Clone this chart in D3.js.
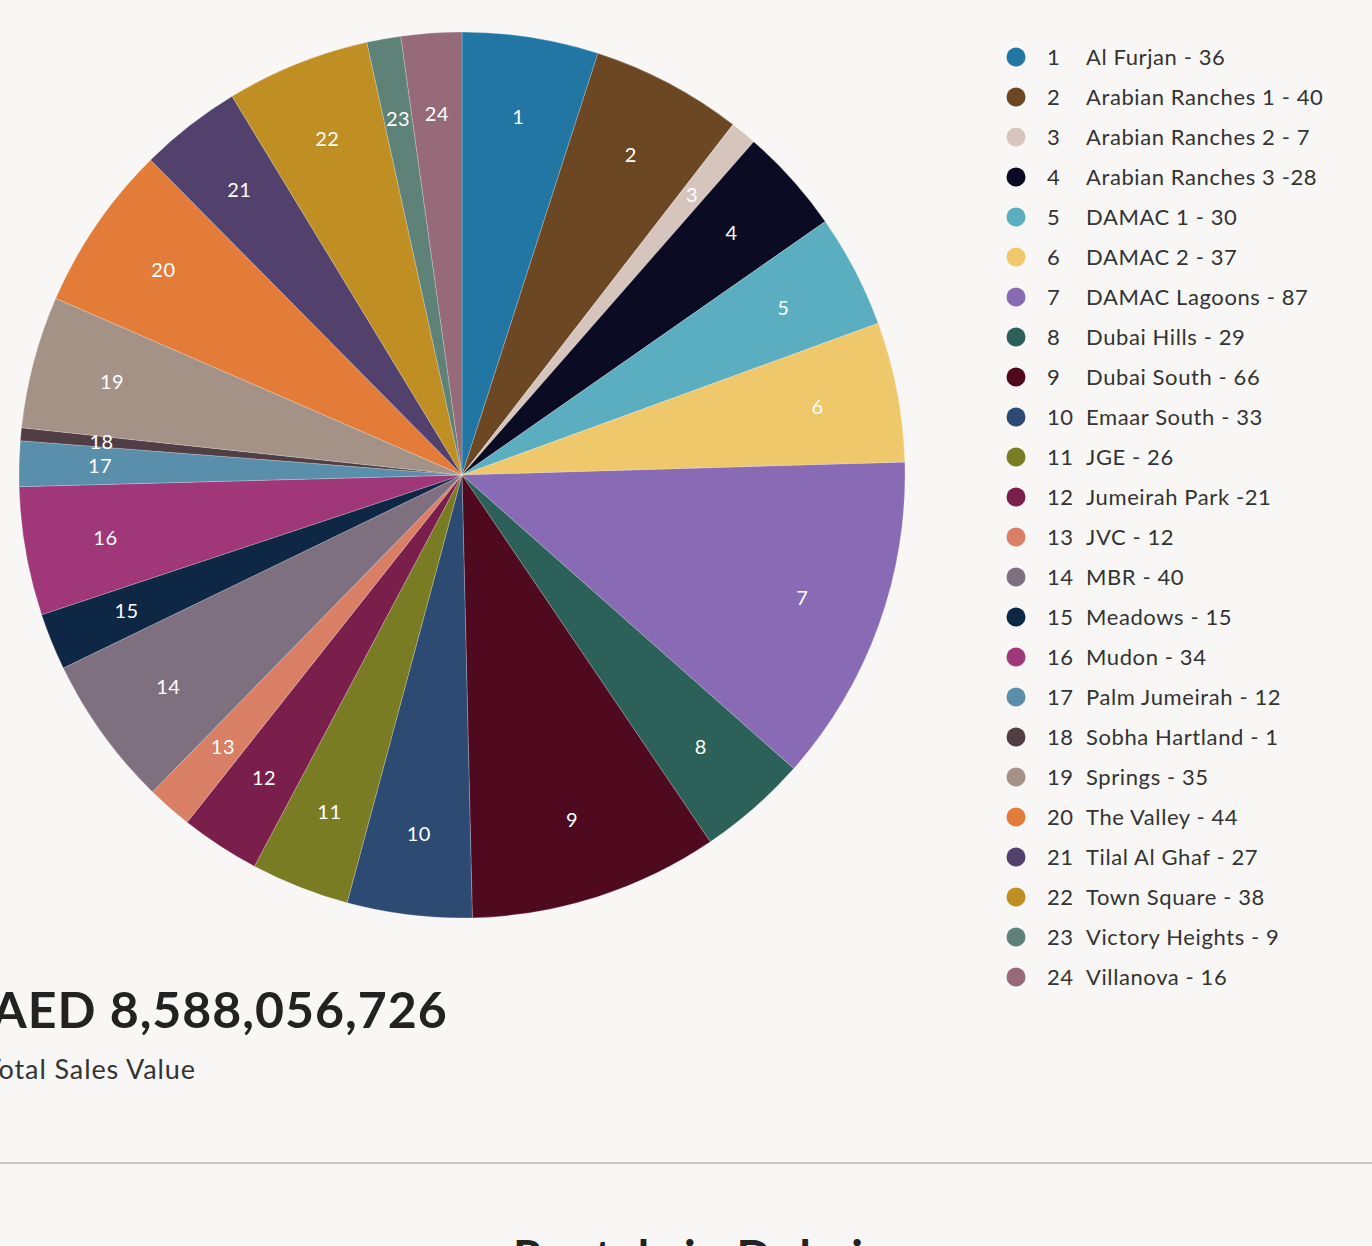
<!DOCTYPE html>
<html>
<head>
<meta charset="utf-8">
<script src="https://cdnjs.cloudflare.com/ajax/libs/d3/7.8.5/d3.min.js"></script>
<style>
  html, body { margin: 0; padding: 0; background: #f8f7f5; overflow: hidden; }
  svg { display: block; font-family: Lato, "Open Sans", sans-serif; }
</style>
</head>
<body>
<div id="chart"></div>
<script>
// data
let names = ["Al Furjan", "Arabian Ranches 1", "Arabian Ranches 2", "Arabian Ranches 3",
	"DAMAC 1", "DAMAC 2", "DAMAC Lagoons", "Dubai Hills", "Dubai South", "Emaar South",
	"JGE", "Jumeirah Park", "JVC", "MBR", "Meadows", "Mudon", "Palm Jumeirah",
	"Sobha Hartland", "Springs", "The Valley", "Tilal Al Ghaf", "Town Square",
	"Victory Heights", "Villanova"];
let counts = [36, 40, 7, 28, 30, 37, 87, 29, 66, 33, 26, 21, 12, 40, 15, 34, 12, 1, 35, 44, 27, 38, 9, 16];
// legend text as shown in the original (some have no space before the number)
let legendLabels = ["Al Furjan - 36", "Arabian Ranches 1 - 40", "Arabian Ranches 2 - 7",
	"Arabian Ranches 3 -28", "DAMAC 1 - 30", "DAMAC 2 - 37", "DAMAC Lagoons - 87",
	"Dubai Hills - 29", "Dubai South - 66", "Emaar South - 33", "JGE - 26",
	"Jumeirah Park -21", "JVC - 12", "MBR - 40", "Meadows - 15", "Mudon - 34",
	"Palm Jumeirah - 12", "Sobha Hartland - 1", "Springs - 35", "The Valley - 44",
	"Tilal Al Ghaf - 27", "Town Square - 38", "Victory Heights - 9", "Villanova - 16"];
let colors = ["#2276a3", "#6b4823", "#d6c5bd", "#0b0c24", "#5aaebf", "#eec86a", "#886bb4",
	"#2b6158", "#500a20", "#2d4a73", "#7a7c24", "#7a1f4c", "#d97f66", "#7f7080",
	"#0d2744", "#a03779", "#5a8fab", "#503e44", "#a49287", "#e27c38", "#52416c",
	"#c08f24", "#5e8278", "#966a79"];
let totalValue = "AED 8,588,056,726";
let totalLabel = "Total Sales Value";
let nextHeading = "Rentals in Dubai";

let width = 1372,
	height = 1246;
let cx = 462, cy = 475, radius = 443;
// the original chart gives tiny slices a minimum size so they stay visible
let minSlice = 3.4;

let data = names.map((n, i) => ({ id: i + 1, name: n, value: counts[i], label: legendLabels[i] }));

let svg = d3.select("#chart").append("svg")
	.attr("width", width)
	.attr("height", height);

let color = d3.scaleOrdinal()
	.domain(data.map(d => d.id))
	.range(colors);

let pie = d3.pie()
	.sort(null)
	.value(d => Math.max(d.value, minSlice));

let arc = d3.arc().innerRadius(0).outerRadius(radius);
let labelArc = d3.arc().innerRadius(362).outerRadius(362);

let pieG = svg.append("g")
	.attr("transform", "translate(" + cx + "," + cy + ")");

let arcs = pie(data);

pieG.selectAll("path")
	.data(arcs)
	.enter()
	.append("path")
	.attr("d", arc)
	.attr("fill", d => color(d.data.id))
	.attr("stroke", "rgba(255,255,255,0.35)")
	.attr("stroke-width", 0.6);

pieG.selectAll("text")
	.data(arcs)
	.enter()
	.append("text")
	.attr("transform", d => "translate(" + labelArc.centroid(d) + ")")
	.attr("text-anchor", "middle")
	.attr("dy", "0.35em")
	.attr("fill", "#fff")
	.style("font-size", "20px")
	.style("letter-spacing", "0.5px")
	.text(d => d.data.id);

// legend
let legend = svg.append("g")
	.attr("transform", "translate(1016,57)");

let rows = legend.selectAll("g")
	.data(data)
	.enter()
	.append("g")
	.attr("transform", (d, i) => "translate(0," + (i * 40) + ")");

rows.append("circle")
	.attr("r", 9.5)
	.attr("fill", d => color(d.id));

rows.append("text")
	.attr("x", 31)
	.attr("dy", "0.35em")
	.attr("fill", "#333")
	.style("font-size", "22px")
	.style("letter-spacing", "0.6px")
	.text(d => d.id);

rows.append("text")
	.attr("x", 70)
	.attr("dy", "0.35em")
	.attr("fill", "#333")
	.style("font-size", "22px")
	.style("letter-spacing", "0.6px")
	.text(d => d.label);

// totals
svg.append("text")
	.attr("x", -8)
	.attr("y", 1028)
	.attr("fill", "#222")
	.style("font-size", "50px")
	.style("font-weight", "bold")
	.style("letter-spacing", "1px")
	.text(totalValue);

svg.append("text")
	.attr("x", -15)
	.attr("y", 1079)
	.attr("fill", "#333")
	.style("font-size", "27px")
	.style("letter-spacing", "0.9px")
	.text(totalLabel);

svg.append("line")
	.attr("x1", 0)
	.attr("x2", width)
	.attr("y1", 1163)
	.attr("y2", 1163)
	.attr("stroke", "#c8c9cc")
	.attr("stroke-width", 2);

svg.append("text")
	.attr("x", 513)
	.attr("y", 1273)
	.attr("fill", "#222")
	.style("font-size", "46px")
	.style("font-weight", "bold")
	.style("letter-spacing", "1.2px")
	.text(nextHeading);
</script>
</body>
</html>
